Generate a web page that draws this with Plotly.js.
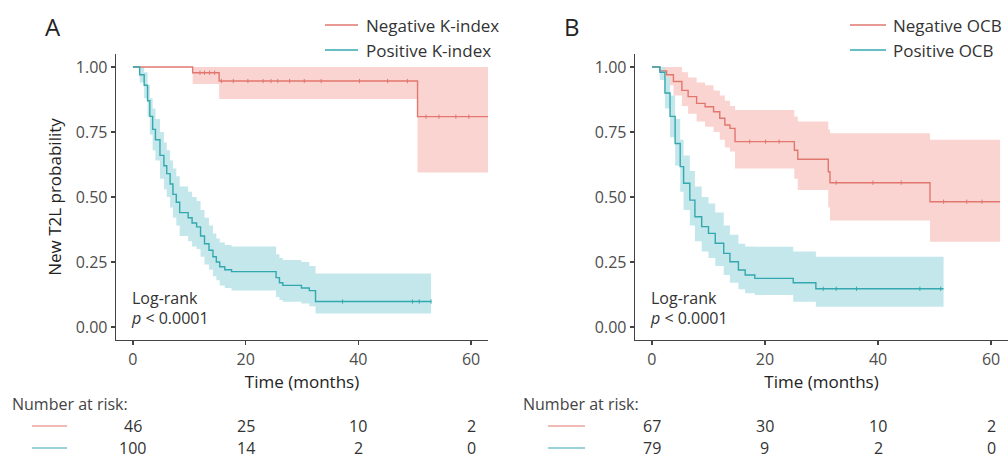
<!DOCTYPE html>
<html>
<head>
<meta charset="utf-8">
<script src="https://cdn.plot.ly/plotly-3.0.1.min.js"></script>
<style>html,body{margin:0;padding:0;background:#fff;}#chart{width:1008px;height:460px;}</style>
</head>
<body>
<div id="chart"></div>
<script>
// ---------- Panel A: K-index ----------
const tA_neg  = [0, 10.6, 15.3, 50.5, 63];
const sA_neg  = [1, 0.978, 0.946, 0.809, 0.809];
const loA_neg = [1, 0.935, 0.877, 0.594, 0.594];
const hiA_neg = [1, 1, 1, 1, 1];
const cA_neg  = [11.9, 12.7, 13.6, 14.5, 15.7, 17.8, 20.4, 23.1, 24.5, 25.7, 27.8, 30.4, 33.4, 40.2, 45.2, 48.7, 52.0, 54.3, 57.3, 59.6];

const tA_pos  = [0, 1.2, 2.0, 2.6, 3.0, 3.5, 4.0, 4.8, 5.5, 6.0, 6.6, 7.1, 7.7, 8.3, 9.8, 10.5, 11.3, 12.0, 12.7, 13.5, 14.2, 14.8, 15.4, 16.3, 17.5, 25.4, 26.0, 26.6, 29.9, 31.3, 32.4, 52.9];
const sA_pos  = [1, 0.97, 0.93, 0.87, 0.81, 0.76, 0.72, 0.66, 0.62, 0.59, 0.55, 0.51, 0.48, 0.44, 0.42, 0.40, 0.385, 0.35, 0.32, 0.295, 0.27, 0.25, 0.232, 0.22, 0.213, 0.19, 0.17, 0.16, 0.15, 0.14, 0.098, 0.098];
const loA_pos = [1, 0.94, 0.88, 0.81, 0.74, 0.68, 0.64, 0.57, 0.53, 0.50, 0.46, 0.42, 0.39, 0.35, 0.33, 0.31, 0.30, 0.27, 0.24, 0.22, 0.195, 0.18, 0.16, 0.15, 0.14, 0.115, 0.104, 0.097, 0.09, 0.08, 0.052, 0.052];
const hiA_pos = [1, 1.0, 0.98, 0.93, 0.88, 0.84, 0.80, 0.75, 0.71, 0.68, 0.64, 0.61, 0.58, 0.54, 0.52, 0.50, 0.485, 0.45, 0.42, 0.39, 0.36, 0.34, 0.325, 0.315, 0.31, 0.28, 0.265, 0.258, 0.25, 0.235, 0.206, 0.206];
const cA_pos  = [37.2, 49.6, 50.8, 52.9];

// ---------- Panel B: OCB ----------
const tB_neg  = [0, 1.4, 2.6, 3.8, 5.3, 6.4, 7.9, 9.4, 10.9, 12.0, 12.9, 13.8, 14.7, 25.2, 25.8, 31.2, 31.5, 49.2, 61.6];
const sB_neg  = [1, 0.985, 0.97, 0.944, 0.91, 0.886, 0.86, 0.847, 0.828, 0.803, 0.777, 0.764, 0.713, 0.68, 0.645, 0.597, 0.555, 0.482, 0.482];
const loB_neg = [1, 0.96, 0.93, 0.89, 0.85, 0.82, 0.79, 0.77, 0.75, 0.72, 0.69, 0.675, 0.61, 0.57, 0.527, 0.46, 0.41, 0.328, 0.328];
const hiB_neg = [1, 1.0, 1.0, 1.0, 0.98, 0.96, 0.94, 0.93, 0.91, 0.89, 0.87, 0.85, 0.835, 0.81, 0.79, 0.76, 0.745, 0.72, 0.72];
const cB_neg  = [17.3, 20.1, 22.5, 32.6, 39.1, 44.1, 51.6, 55.7, 58.4];

const tB_pos  = [0, 1.4, 2.3, 3.2, 4.1, 5.0, 5.6, 6.7, 7.6, 8.8, 10.0, 11.2, 12.7, 13.8, 15.3, 16.5, 18.2, 25.0, 29.0, 51.6];
const sB_pos  = [1, 0.98, 0.90, 0.81, 0.706, 0.617, 0.553, 0.488, 0.424, 0.386, 0.36, 0.322, 0.283, 0.251, 0.219, 0.20, 0.187, 0.17, 0.147, 0.147];
const loB_pos = [1, 0.95, 0.84, 0.73, 0.62, 0.52, 0.45, 0.39, 0.33, 0.29, 0.265, 0.235, 0.20, 0.17, 0.145, 0.13, 0.123, 0.097, 0.078, 0.078];
const hiB_pos = [1, 1.0, 0.96, 0.89, 0.80, 0.72, 0.66, 0.60, 0.54, 0.50, 0.475, 0.44, 0.39, 0.355, 0.32, 0.31, 0.309, 0.29, 0.27, 0.27];
const cB_pos  = [30.3, 32.6, 36.2, 47.4, 51.1];

// ---------- Number at risk ----------
const riskTimes = [0, 20, 40, 60];
const riskA_neg = [46, 25, 10, 2];
const riskA_pos = [100, 14, 2, 0];
const riskB_neg = [67, 30, 10, 2];
const riskB_pos = [79, 9, 2, 0];

const legendA = ["Negative K-index", "Positive K-index"];
const legendB = ["Negative OCB", "Positive OCB"];
const yTicks = [0, 0.25, 0.5, 0.75, 1];
const yTickText = ["0.00", "0.25", "0.50", "0.75", "1.00"];
const xTicks = [0, 20, 40, 60];

// ---------- styles ----------
const RED = "#E2776F", RED_FILL = "#F9D4D1";
const TEAL = "#33A9AF", TEAL_FILL = "#C3E7EB";
const FONT = "Open Sans, sans-serif";

function stepAt(times, surv, t) {
  let v = surv[0];
  for (let i = 0; i < times.length; i++) { if (times[i] <= t) v = surv[i]; }
  return v;
}

function group(t, s, lo, hi, cens, color, fill, xa, ya, name) {
  return {
    ribbon: [
      {x: t, y: lo, xaxis: xa, yaxis: ya, mode: "lines", line: {width: 0, shape: "hv", color: fill}, showlegend: false, hoverinfo: "skip"},
      {x: t, y: hi, xaxis: xa, yaxis: ya, mode: "lines", line: {width: 0, shape: "hv", color: fill}, fill: "tonexty", fillcolor: fill, showlegend: false, hoverinfo: "skip"}
    ],
    line: {x: t, y: s, xaxis: xa, yaxis: ya, mode: "lines", name: name, line: {color: color, width: 1.4, shape: "hv"}, showlegend: false},
    cens: {x: cens, y: cens.map(c => stepAt(t, s, c)), xaxis: xa, yaxis: ya, mode: "markers", showlegend: false, hoverinfo: "skip",
           marker: {symbol: "line-ns-open", size: 3, color: color, line: {color: color, width: 1}}}
  };
}

const gAn = group(tA_neg, sA_neg, loA_neg, hiA_neg, cA_neg, RED, RED_FILL, "x", "y", legendA[0]);
const gAp = group(tA_pos, sA_pos, loA_pos, hiA_pos, cA_pos, TEAL, TEAL_FILL, "x", "y", legendA[1]);
const gBn = group(tB_neg, sB_neg, loB_neg, hiB_neg, cB_neg, RED, RED_FILL, "x2", "y2", legendB[0]);
const gBp = group(tB_pos, sB_pos, loB_pos, hiB_pos, cB_pos, TEAL, TEAL_FILL, "x2", "y2", legendB[1]);

const data = [
  ...gAn.ribbon, ...gAp.ribbon, ...gBn.ribbon, ...gBp.ribbon,
  gAn.line, gAp.line, gBn.line, gBp.line,
  gAn.cens, gAp.cens, gBn.cens, gBp.cens
];

const W = 1008, H = 460;
const px = v => v / W, py = v => (H - v) / H;

function axX(domain) {
  return {
    domain: domain, range: [-3, 63], tickvals: xTicks, ticks: "outside", ticklen: 4, tickwidth: 1.2, tickcolor: "#444",
    showline: true, linecolor: "#444", linewidth: 1.3, showgrid: false, zeroline: false,
    tickfont: {family: FONT, size: 16, color: "#4d4d4d"},
    title: {text: "Time (months)", font: {family: FONT, size: 17, color: "#222"}, standoff: 6}
  };
}
function axY(anchor, withTitle) {
  const a = {
    domain: [py(340), py(54)], range: [-0.05, 1.05], tickvals: yTicks, ticktext: yTickText, ticks: "outside", ticklen: 4, tickwidth: 1.2, tickcolor: "#444",
    showline: true, linecolor: "#444", linewidth: 1.3, showgrid: false, zeroline: false, anchor: anchor,
    tickfont: {family: FONT, size: 16, color: "#4d4d4d"}
  };
  if (withTitle) a.title = {text: "New T2L probability", font: {family: FONT, size: 17, color: "#222"}, standoff: 10};
  return a;
}

const annotations = [];
const shapes = [];
const txt = (o) => Object.assign({showarrow: false, font: {family: FONT, size: 17, color: "#333"}}, o);

// panel letters
annotations.push(txt({text: "A", xref: "paper", yref: "paper", x: px(53), y: py(27), xanchor: "center", yanchor: "middle", font: {family: FONT, size: 24, color: "#222"}}));
annotations.push(txt({text: "B", xref: "paper", yref: "paper", x: px(572), y: py(27), xanchor: "center", yanchor: "middle", font: {family: FONT, size: 24, color: "#222"}}));

// legends (manual keys)
function legend(labels, lineX0, lineX1, textX) {
  const cols = [RED, TEAL];
  const ys = [25, 50];
  labels.forEach((lab, i) => {
    shapes.push({type: "line", xref: "paper", yref: "paper", x0: px(lineX0), x1: px(lineX1), y0: py(ys[i]), y1: py(ys[i]), line: {color: cols[i], width: 1.4}});
    annotations.push(txt({text: lab, xref: "paper", yref: "paper", x: px(textX), y: py(ys[i]), xanchor: "left", yanchor: "middle"}));
  });
}
legend(legendA, 325, 358, 364);
legend(legendB, 850, 886, 891);

// log-rank text
["x", "x2"].forEach((xa, k) => {
  const ya = k === 0 ? "y" : "y2";
  annotations.push(txt({text: "Log-rank", xref: xa, yref: ya, x: -0.6, y: 0.112, xanchor: "left", yanchor: "middle", font: {family: FONT, size: 16, color: "#333"}}));
  annotations.push(txt({text: "<i>p</i> &lt; 0.0001", xref: xa, yref: ya, x: -0.7, y: 0.036, xanchor: "left", yanchor: "middle", font: {family: FONT, size: 16, color: "#333"}}));
});

// number at risk
function risk(xa, labelX, lineX0, lineX1, negVals, posVals) {
  annotations.push(txt({text: "Number at risk:", xref: "paper", yref: "paper", x: px(labelX), y: py(404), xanchor: "left", yanchor: "middle", font: {family: FONT, size: 16, color: "#444"}}));
  [[negVals, RED, 426], [posVals, TEAL, 448]].forEach(([vals, col, yy]) => {
    shapes.push({type: "line", xref: "paper", yref: "paper", x0: px(lineX0), x1: px(lineX1), y0: py(yy), y1: py(yy), line: {color: col, width: 1.2}});
    vals.forEach((v, i) => {
      annotations.push(txt({text: String(v), xref: xa, yref: "paper", x: riskTimes[i], y: py(yy), xanchor: "center", yanchor: "middle", font: {family: FONT, size: 16, color: "#333"}}));
    });
  });
}
risk("x", 10, 32, 67, riskA_neg, riskA_pos);
risk("x2", 521, 548, 585, riskB_neg, riskB_pos);

const layout = {
  width: W, height: H, margin: {l: 0, r: 0, t: 0, b: 0},
  paper_bgcolor: "#fff", plot_bgcolor: "#fff", showlegend: false,
  font: {family: FONT, color: "#333"},
  xaxis: Object.assign(axX([px(116), px(488)]), {anchor: "y"}),
  yaxis: axY("x", true),
  xaxis2: Object.assign(axX([px(635), 1]), {anchor: "y2"}),
  yaxis2: axY("x2", false),
  annotations: annotations, shapes: shapes
};

Plotly.newPlot("chart", data, layout, {displayModeBar: false, staticPlot: true});
</script>
</body>
</html>
